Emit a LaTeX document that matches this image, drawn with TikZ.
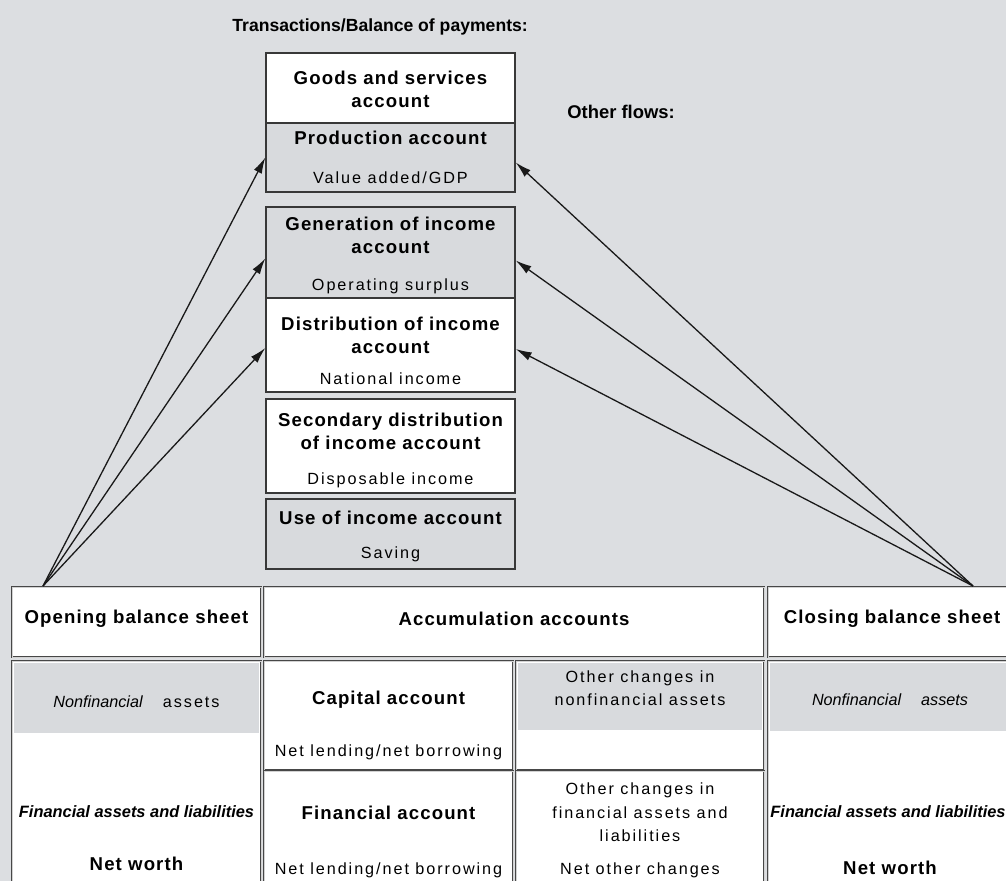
\documentclass[tikz,border=0pt]{standalone}
\usepackage{fontspec}
\setmainfont{Liberation Sans}
\newfontfamily\acctfont[LetterSpace=6]{Liberation Sans}
\newfontfamily\notefont[LetterSpace=12]{Liberation Sans}
\usetikzlibrary{arrows.meta}
\definecolor{bggray}{RGB}{220,222,225}
\definecolor{cellgray}{RGB}{216,218,221}

\begin{document}
\begin{tikzpicture}[x=0.5pt,y=-0.5pt]
       \tikzstyle{box}=[draw=black!78, line width=0.7pt, inner sep=0pt, minimum width=124.5pt]
       \tikzstyle{cell}=[draw=black!72, double=gray!35, double distance=0.5pt, line width=0.45pt, inner sep=0pt, fill=white]
       \tikzstyle{hd}=[font=\acctfont\bfseries\fontsize{9.3}{11.5}\selectfont, align=center, inner sep=0pt]
       \tikzstyle{nt}=[font=\notefont\fontsize{8.1}{11.7}\selectfont, align=center, inner sep=0pt]
       \tikzstyle{it}=[font=\fontsize{8.1}{10}\selectfont\itshape, inner sep=0pt]
       \tikzstyle{bit}=[font=\fontsize{8.2}{10}\selectfont\bfseries\itshape, inner sep=0pt]
       \tikzstyle{flow}=[black!90, line width=0.65pt, -{Latex[length=8pt,width=4.4pt]}]
       \useasboundingbox (0,0) rectangle (1006,881);
       \fill[bggray] (0,0) rectangle (1006,881);
       \clip (0,0) rectangle (1006,881);
       % headings
       \node[font=\fontsize{8.8}{10}\selectfont\bfseries, anchor=west, inner sep=0pt] (trans) at (232,27) {Transactions/Balance of payments:};
       \node[font=\fontsize{9.2}{10}\selectfont\bfseries, anchor=west, inner sep=0pt] (other) at (567,112) {Other flows:};
       % current accounts
       \node[box, fill=white, minimum height=35pt] (goods) at (390.5,88) {};
       \node[box, fill=cellgray, minimum height=34.5pt] (prod) at (390.5,157.5) {};
       \node[box, fill=cellgray, minimum height=45.5pt] (gen) at (390.5,252.5) {};
       \node[box, fill=white, minimum height=47pt] (dist) at (390.5,345) {};
       \node[box, fill=white, minimum height=47pt] (sec) at (390.5,446) {};
       \node[box, fill=cellgray, minimum height=35pt] (use) at (390.5,534) {};
       \node[hd] (goodst) at (390.5,89) {Goods and services\\account};
       \node[hd] (prodt) at (390.5,138) {Production account};
       \node[nt] (prodb) at (390.5,178) {Value added/GDP};
       \node[hd] (gent) at (390.5,235) {Generation of income\\account};
       \node[nt] (genb) at (390.5,286) {Operating surplus};
       \node[hd] (distt) at (390.5,335) {Distribution of income\\account};
       \node[nt] (distb) at (390.5,379) {National income};
       \node[hd] (sect) at (390.5,431.5) {Secondary distribution\\of income account};
       \node[nt] (secb) at (390.5,480) {Disposable income};
       \node[hd] (uset) at (390.5,518) {Use of income account};
       \node[nt] (useb) at (390.5,554) {Saving};
       % balance sheets and accumulation accounts
       \node[cell, minimum width=124.5pt, minimum height=35pt] (openh) at (136.5,622) {};
       \node[cell, minimum width=250pt, minimum height=35pt] (accuh) at (514,622) {};
       \node[cell, minimum width=122pt, minimum height=35pt] (closeh) at (890,622) {};
       \node[cell, minimum width=124.5pt, minimum height=117pt] (openb) at (136.5,778) {};
       \node[cell, minimum width=124.5pt, minimum height=54.5pt] (capb) at (388.5,715.5) {};
       \node[cell, minimum width=124.5pt, minimum height=62pt] (finb) at (388.5,833) {};
       \node[cell, minimum width=124pt, minimum height=54.5pt] (onfb) at (640,715.5) {};
       \node[cell, minimum width=124pt, minimum height=62pt] (ofb) at (640,833) {};
       \node[cell, minimum width=122pt, minimum height=117pt] (closeb) at (890,778) {};
       \fill[cellgray] (14,663) rectangle (259,733);
       \fill[cellgray] (518,663) rectangle (762,730);
       \fill[cellgray] (770,663) rectangle (1010,731);
       \node[hd] (openht) at (136.5,619) {Opening balance sheet};
       \node[hd] (accuht) at (514,619) {Accumulation accounts};
       \node[hd] (closeht) at (892,619) {Closing balance sheet};
       \node[inner sep=0pt] (opennf) at (136.5,702) {\fontsize{8.1}{10}\selectfont\textit{Nonfinancial}\hspace{10pt}{\notefont assets}};
       \node[bit] (openfa) at (136.5,812) {Financial assets and liabilities};
       \node[hd] (opennw) at (136.5,864) {Net worth};
       \node[hd] (capt) at (388.5,700) {Capital account};
       \node[nt] (capl) at (388.5,752) {Net lending/net borrowing};
       \node[hd] (fint) at (388.5,813) {Financial account};
       \node[nt] (finl) at (388.5,870) {Net lending/net borrowing};
       \node[nt] (onft) at (640,688.5) {Other changes in\\nonfinancial assets};
       \node[nt] (oft) at (640,812.5) {Other changes in\\financial assets and\\liabilities};
       \node[nt] (ofl) at (640,870) {Net other changes};
       \node[it] (closenf) at (890,700) {Nonfinancial\hspace{10pt}assets};
       \node[bit] (closefa) at (888,812) {Financial assets and liabilities};
       \node[hd] (closenw) at (890,868) {Net worth};
       % flows
       \coordinate (srcl) at (43,586);
       \coordinate (srcr) at (973,586);
       \draw[flow] (srcl) -- (prod.west);
       \draw[flow] (srcl) -- ([yshift=-3pt]gen.west);
       \draw[flow] (srcl) -- ([yshift=-1.5pt]dist.west);
       \draw[flow] (srcr) -- ([yshift=-2.5pt]prod.east);
       \draw[flow] (srcr) -- ([yshift=-4pt]gen.east);
       \draw[flow] (srcr) -- ([yshift=-2pt]dist.east);
\end{tikzpicture}
\end{document}
